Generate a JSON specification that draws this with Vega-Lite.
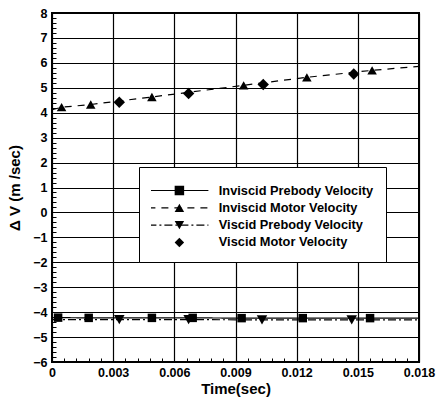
{
  "$schema": "https://vega.github.io/schema/vega-lite/v6.json",
  "width": 367,
  "height": 349,
  "autosize": "none",
  "padding": {"left": 52, "top": 13, "right": 17, "bottom": 35},
  "background": "white",
  "config": {
    "font": "Liberation Sans",
    "view": {"stroke": "black", "strokeWidth": 2},
    "axis": {
      "labelFont": "Liberation Sans",
      "labelFontWeight": "bold",
      "labelFontSize": 12.5,
      "labelColor": "black",
      "titleFont": "Liberation Sans",
      "titleFontWeight": "bold",
      "titleFontSize": 15,
      "titleColor": "black",
      "domain": false
    }
  },
  "data": {
    "values": [
      {"s": "Inviscid Prebody Velocity", "t": 0, "v": -4.22, "m": 0},
      {"s": "Inviscid Prebody Velocity", "t": 0.0003, "v": -4.22, "m": 1},
      {"s": "Inviscid Prebody Velocity", "t": 0.0018, "v": -4.23, "m": 1},
      {"s": "Inviscid Prebody Velocity", "t": 0.0049, "v": -4.23, "m": 1},
      {"s": "Inviscid Prebody Velocity", "t": 0.0069, "v": -4.23, "m": 1},
      {"s": "Inviscid Prebody Velocity", "t": 0.0093, "v": -4.24, "m": 1},
      {"s": "Inviscid Prebody Velocity", "t": 0.0123, "v": -4.24, "m": 1},
      {"s": "Inviscid Prebody Velocity", "t": 0.0156, "v": -4.24, "m": 1},
      {"s": "Inviscid Prebody Velocity", "t": 0.018, "v": -4.24, "m": 0},
      {"s": "Inviscid Motor Velocity", "t": 0, "v": 4.12, "m": 0},
      {"s": "Inviscid Motor Velocity", "t": 0.00047, "v": 4.22, "m": 1},
      {"s": "Inviscid Motor Velocity", "t": 0.0019, "v": 4.33, "m": 1},
      {"s": "Inviscid Motor Velocity", "t": 0.0049, "v": 4.63, "m": 1},
      {"s": "Inviscid Motor Velocity", "t": 0.0094, "v": 5.1, "m": 1},
      {"s": "Inviscid Motor Velocity", "t": 0.0125, "v": 5.42, "m": 1},
      {"s": "Inviscid Motor Velocity", "t": 0.0157, "v": 5.7, "m": 1},
      {"s": "Inviscid Motor Velocity", "t": 0.018, "v": 5.86, "m": 0},
      {"s": "Viscid Prebody Velocity", "t": 0, "v": -4.3, "m": 0},
      {"s": "Viscid Prebody Velocity", "t": 0.0033, "v": -4.3, "m": 1},
      {"s": "Viscid Prebody Velocity", "t": 0.0067, "v": -4.3, "m": 1},
      {"s": "Viscid Prebody Velocity", "t": 0.0103, "v": -4.31, "m": 1},
      {"s": "Viscid Prebody Velocity", "t": 0.0147, "v": -4.31, "m": 1},
      {"s": "Viscid Prebody Velocity", "t": 0.018, "v": -4.31, "m": 0},
      {"s": "Viscid Motor Velocity", "t": 0.0033, "v": 4.42, "m": 1},
      {"s": "Viscid Motor Velocity", "t": 0.0067, "v": 4.77, "m": 1},
      {"s": "Viscid Motor Velocity", "t": 0.01036, "v": 5.13, "m": 1},
      {"s": "Viscid Motor Velocity", "t": 0.0148, "v": 5.55, "m": 1}
    ]
  },
  "layer": [
    {
      "transform": [{"filter": "datum.s !== 'Viscid Motor Velocity'"}],
      "mark": {"type": "line", "color": "black", "strokeWidth": 1.2},
      "encoding": {
        "x": {
          "field": "t", "type": "quantitative",
          "scale": {"domain": [0, 0.018], "nice": false, "zero": false},
          "axis": {
            "orient": "bottom",
            "values": [0.0006, 0.0012, 0.0018, 0.0024, 0.0036, 0.0042, 0.0048, 0.0054, 0.0066, 0.0072, 0.0078, 0.0084, 0.0096, 0.0102, 0.0108, 0.0114, 0.0126, 0.0132, 0.0138, 0.0144, 0.0156, 0.0162, 0.0168, 0.0174],
            "ticks": true, "tickSize": -4, "tickColor": "black", "tickWidth": 1,
            "labels": false, "grid": false, "title": null
          }
        },
        "y": {
          "field": "v", "type": "quantitative",
          "scale": {"domain": [-6, 8], "nice": false, "zero": false},
          "axis": {
            "orient": "left",
            "values": [-5.8, -5.6, -5.4, -5.2, -4.8, -4.6, -4.4, -4.2, -3.8, -3.6, -3.4, -3.2, -2.8, -2.6, -2.4, -2.2, -1.8, -1.6, -1.4, -1.2, -0.8, -0.6, -0.4, -0.2, 0.2, 0.4, 0.6, 0.8, 1.2, 1.4, 1.6, 1.8, 2.2, 2.4, 2.6, 2.8, 3.2, 3.4, 3.6, 3.8, 4.2, 4.4, 4.6, 4.8, 5.2, 5.4, 5.6, 5.8, 6.2, 6.4, 6.6, 6.8, 7.2, 7.4, 7.6, 7.8],
            "ticks": true, "tickSize": -4, "tickColor": "black", "tickWidth": 1,
            "labels": false, "grid": false, "title": null
          }
        },
        "strokeDash": {
          "field": "s", "type": "nominal",
          "scale": {
            "domain": ["Inviscid Prebody Velocity", "Inviscid Motor Velocity", "Viscid Prebody Velocity", "Viscid Motor Velocity"],
            "range": [[1, 0], [7, 6], [8, 3, 2, 3], [0, 100]]
          },
          "legend": {
            "orient": "none", "legendX": 87, "legendY": 154,
            "title": " ", "titleFontSize": 5, "titlePadding": 0,
            "padding": 12, "strokeColor": "black", "fillColor": "white",
            "symbolType": "M-6,0H6", "symbolSize": 100, "symbolStrokeWidth": 1.2,
            "symbolStrokeColor": "black", "symbolOffset": 21, "labelOffset": 34,
            "labelFont": "Liberation Sans", "labelFontWeight": "bold", "labelFontSize": 12.8,
            "labelColor": "black", "clipHeight": 13, "rowPadding": 3.3
          }
        }
      }
    },
    {
      "transform": [{"filter": "datum.m == 1"}],
      "mark": {"type": "point", "filled": true, "color": "black", "opacity": 1},
      "encoding": {
        "x": {
          "field": "t", "type": "quantitative",
          "axis": {
            "orient": "bottom",
            "values": [0, 0.003, 0.006, 0.009, 0.012, 0.015, 0.018],
            "format": ".3~f", "ticks": false, "labelPadding": 4,
            "grid": true, "gridColor": "black", "gridOpacity": 1, "gridWidth": 1.2,
            "title": "Time(sec)", "titlePadding": 3, "labelFlush": false
          }
        },
        "y": {
          "field": "v", "type": "quantitative",
          "axis": {
            "orient": "left",
            "values": [-6, -5, -4, -3, -2, -1, 0, 1, 2, 3, 4, 5, 6, 7, 8],
            "ticks": false, "labelPadding": 5,
            "grid": true, "gridColor": "black", "gridOpacity": 1, "gridWidth": 1.2,
            "title": "Δ V (m /sec)", "titlePadding": 10, "labelFlush": false
          }
        },
        "shape": {
          "field": "s", "type": "nominal",
          "sort": ["Inviscid Prebody Velocity", "Inviscid Motor Velocity", "Viscid Prebody Velocity", "Viscid Motor Velocity"],
          "scale": {"range": ["square", "triangle-up", "triangle-down", "diamond"]},
          "legend": {
            "orient": "none", "legendX": 87, "legendY": 154,
            "title": " ", "titleFontSize": 5, "titlePadding": 0,
            "padding": 12, "symbolSize": 90,
            "symbolFillColor": "black", "symbolStrokeColor": "black", "symbolOpacity": 1,
            "symbolOffset": 22, "labelOffset": 34, "labelOpacity": 0,
            "labelFont": "Liberation Sans", "labelFontWeight": "bold", "labelFontSize": 12.8,
            "clipHeight": 13, "rowPadding": 3.3
          }
        },
        "size": {
          "field": "s", "type": "nominal",
          "sort": ["Inviscid Prebody Velocity", "Inviscid Motor Velocity", "Viscid Prebody Velocity", "Viscid Motor Velocity"],
          "scale": {"range": [72, 130, 130, 130]},
          "legend": null
        }
      }
    }
  ],
  "resolve": {"axis": {"x": "independent", "y": "independent"}}
}
